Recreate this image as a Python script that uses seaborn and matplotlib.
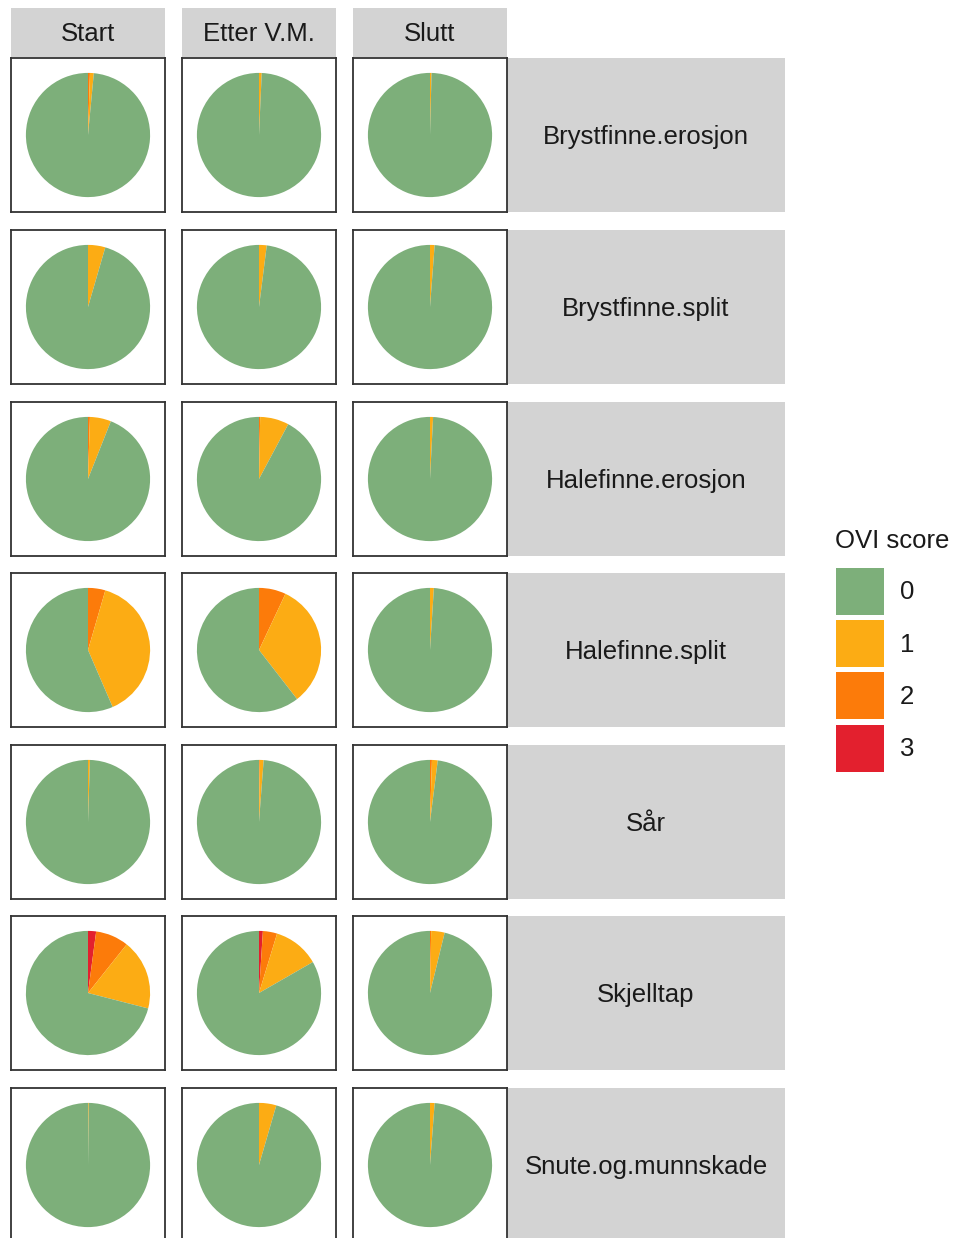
"""Pie grid of OVI scores per injury type and time point."""

import matplotlib
matplotlib.use("Agg")
import matplotlib.pyplot as plt
from matplotlib.patches import Patch
import seaborn as sns

# --- data (percent of fish per OVI score) ---------------------------------
times = ["Start", "Etter V.M.", "Slutt"]
injuries = [
    "Brystfinne.erosjon",
    "Brystfinne.split",
    "Halefinne.erosjon",
    "Halefinne.split",
    "Sår",
    "Skjelltap",
    "Snute.og.munnskade",
]
score_labels = ["0", "1", "2", "3"]

# rows = injuries, columns = times
score0 = [
    [98.5, 99.3, 99.6],
    [95.5, 98.0, 98.8],
    [94.0, 92.2, 99.2],
    [56.5, 60.5, 99.0],
    [99.5, 98.8, 98.0],
    [71.0, 83.3, 96.2],
    [99.8, 95.5, 98.8],
]
score1 = [
    [1.0, 0.7, 0.4],
    [4.5, 2.0, 1.2],
    [5.5, 7.5, 0.8],
    [39.0, 32.5, 1.0],
    [0.5, 1.0, 1.5],
    [18.3, 12.0, 3.5],
    [0.2, 4.5, 1.2],
]
score2 = [
    [0.5, 0.0, 0.0],
    [0.0, 0.0, 0.0],
    [0.5, 0.3, 0.0],
    [4.5, 7.0, 0.0],
    [0.0, 0.2, 0.5],
    [8.6, 3.7, 0.3],
    [0.0, 0.0, 0.0],
]
score3 = [
    [0.0, 0.0, 0.0],
    [0.0, 0.0, 0.0],
    [0.0, 0.0, 0.0],
    [0.0, 0.0, 0.0],
    [0.0, 0.0, 0.0],
    [2.1, 1.0, 0.0],
    [0.0, 0.0, 0.0],
]

colors = ["#7DAF7A", "#FCAC14", "#FC7B0A", "#E3202E"]

# --- style ------------------------------------------------------------------
sns.set_theme(style="white")
plt.rcParams["font.family"] = ["Liberation Sans", "DejaVu Sans"]
FS = 18.5
STRIP = "#D3D3D3"
TXT = "#1A1A1A"

W, H = 956, 1238
fig = plt.figure(figsize=(W / 100, H / 100), dpi=100)


def px_axes(x0, y0, x1, y1):
    """Axes from pixel box (top-left origin)."""
    return fig.add_axes([x0 / W, 1 - y1 / H, (x1 - x0) / W, (y1 - y0) / H])


def strip(x0, y0, x1, y1, label, ty=0.5):
    ax = px_axes(x0, y0, x1, y1)
    ax.set_facecolor(STRIP)
    ax.set_xticks([])
    ax.set_yticks([])
    for s in ax.spines.values():
        s.set_visible(False)
    ax.text(0.5, ty, label, ha="center", va="center", fontsize=FS,
            color=TXT, transform=ax.transAxes)


col_x = [11, 182, 353]
panel_w = 154
row_y = [58, 230, 402, 573, 745, 916, 1088]
panel_h = 154

for j, t in enumerate(times):
    strip(col_x[j], 8, col_x[j] + panel_w, 57, t, ty=0.46)

for i, inj in enumerate(injuries):
    y0 = row_y[i]
    strip(col_x[-1] + panel_w, y0, 785, y0 + panel_h, inj, ty=0.485)
    for j in range(len(times)):
        ax = px_axes(col_x[j], y0, col_x[j] + panel_w, y0 + panel_h)
        vals = [score3[i][j], score2[i][j], score1[i][j], score0[i][j]]
        ax.pie(vals, colors=colors[::-1], startangle=90, counterclock=False,
               radius=1, frame=True, wedgeprops=dict(linewidth=0))
        ax.set_xlim(-1.24, 1.24)
        ax.set_ylim(-1.24, 1.24)
        ax.set_xticks([])
        ax.set_yticks([])
        ax.set_aspect("auto")
        ax.set_facecolor("white")
        for s in ax.spines.values():
            s.set_visible(True)
            s.set_color("#333333")
            s.set_linewidth(1.3)

# legend: title drawn separately to get the ggplot-like gap
fig.text(835 / W, 1 - 541 / H, "OVI score", ha="left", va="center",
         fontsize=FS, color=TXT)
handles = [Patch(facecolor=c, edgecolor="none", label=l)
           for c, l in zip(colors, score_labels)]
leg = fig.legend(handles=handles, loc="upper left",
                 bbox_to_anchor=(836 / W, 1 - 568 / H), frameon=False,
                 fontsize=FS, handlelength=1.87,
                 handleheight=2.44, labelspacing=0.2, handletextpad=0.62,
                 borderpad=0, borderaxespad=0)
for txt in leg.get_texts():
    txt.set_color(TXT)

fig.savefig("out.png", dpi=100, facecolor="white")
